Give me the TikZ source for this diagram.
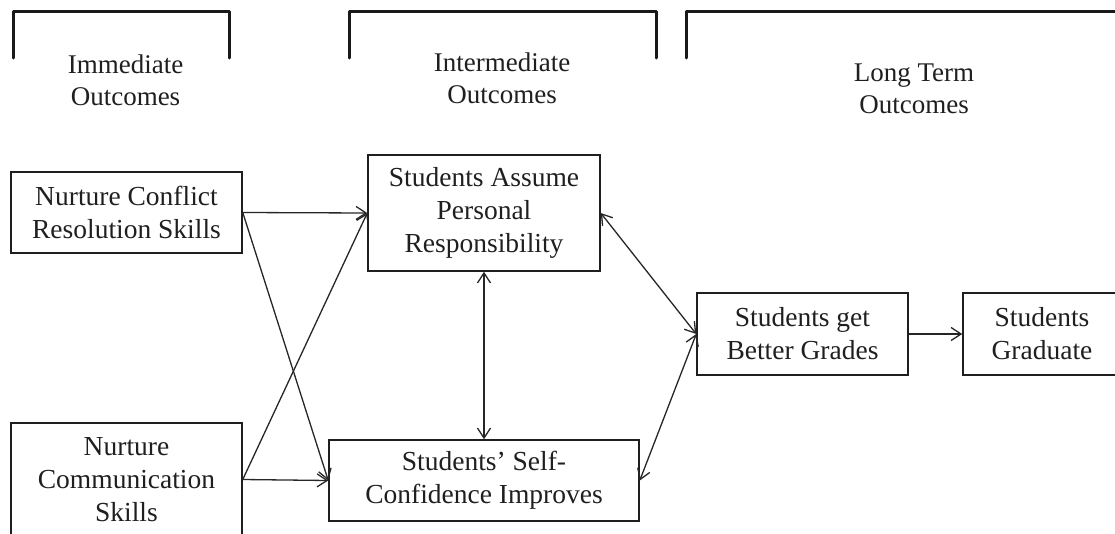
\documentclass[tikz,border=0pt]{standalone}
\usepackage{fontspec}
\setmainfont{Liberation Serif}
\usetikzlibrary{arrows.meta}
\begin{document}
\begin{tikzpicture}[x=1pt,y=-1pt,
  box/.style={draw=black!88,line width=1.5pt,align=center,inner sep=0pt,
    font=\fontsize{27.5}{33}\selectfont,text=black!88},
  lbl/.style={align=center,font=\fontsize{27}{32}\selectfont,text=black!88},
  brk/.style={draw=black!90,line width=3pt,line cap=round,line join=round},
  conn/.style={draw=black!85,line width=1.3pt,-{Straight Barb[length=10pt,width=13pt,line width=1.3pt]}},
  both/.style={conn,{Straight Barb[length=10pt,width=13pt,line width=1.3pt]}-{Straight Barb[length=10pt,width=13pt,line width=1.3pt]}}]
\useasboundingbox (0,0) rectangle (1115,533);
% brackets
\draw[brk] (13,58) -- (13,11) -- (229,11) -- (229,58);
\draw[brk] (349,58) -- (349,11) -- (656,11) -- (656,58);
\draw[brk] (686,58) -- (686,11) -- (1125,11);
% column labels
\node[lbl] (l1) at (125.5,80) {Immediate\\Outcomes};
\node[lbl] (l2) at (502,78) {Intermediate\\Outcomes};
\node[lbl] (l3) at (914,89) {Long Term\\Outcomes};
% boxes
\node[box,minimum width=231pt,minimum height=81pt] (A) at (126.5,212.5) {Nurture Conflict\\Resolution Skills};
\node[box,minimum width=231pt,minimum height=113pt] (B) at (126.5,479.5) {Nurture\\Communication\\Skills};
\node[box,minimum width=232pt,minimum height=116pt] (C) at (484,213) {Students Assume\\Personal\\Responsibility};
\node[box,minimum width=310pt,minimum height=81pt] (D) at (484,480.5) {Students' Self-\\Confidence Improves};
\node[box,minimum width=211pt,minimum height=82pt] (E) at (802.5,334) {Students get\\Better Grades};
\node[box,minimum width=158pt,minimum height=82pt] (F) at (1042,334) {Students\\Graduate};
% connectors
\draw[conn] (A.east) -- (C.west);
\draw[conn] (A.east) -- (D.west);
\draw[conn] (B.east) -- (C.west);
\draw[conn] (B.east) -- (D.west);
\draw[both] (C.south) -- (D.north);
\draw[both] (C.east) -- (E.west);
\draw[both] (D.east) -- (E.west);
\draw[conn] (E.east) -- (F.west);
\end{tikzpicture}
\end{document}
